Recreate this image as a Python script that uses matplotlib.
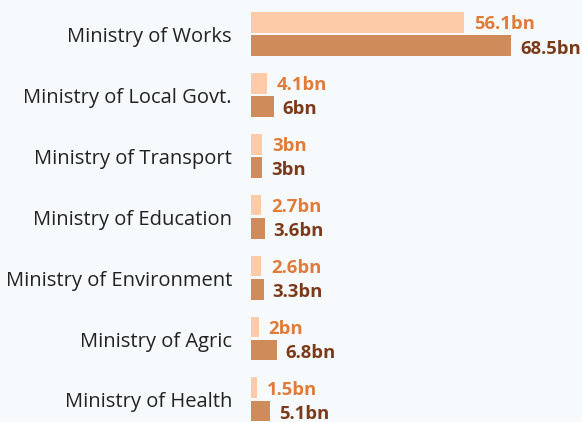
import matplotlib
matplotlib.use('Agg')
import matplotlib.pyplot as plt
import numpy as np

# data
ministries = ['Ministry of Works', 'Ministry of Local Govt.', 'Ministry of Transport',
              'Ministry of Education', 'Ministry of Environment', 'Ministry of Agric',
              'Ministry of Health']
series_a = [56.1, 4.1, 3, 2.7, 2.6, 2, 1.5]
series_b = [68.5, 6, 3, 3.6, 3.3, 6.8, 5.1]

bg = '#F7FAFC'
light_bar = '#FDCBA8'
dark_bar = '#D08B5B'
light_txt = '#E07B39'
dark_txt = '#7B3A1A'

plt.rcParams['font.family'] = ['Open Sans', 'DejaVu Sans']

W, H = 582, 422
fig = plt.figure(figsize=(W / 100, H / 100), dpi=100, facecolor=bg)
ax = fig.add_axes([251 / W, 0, 1 - 251 / W, 1])
ax.set_facecolor(bg)

y = np.arange(len(ministries))
h = 0.34
off = 0.19
ax.barh(y - off, series_a, height=h, color=light_bar)
ax.barh(y + off, series_b, height=h, color=dark_bar)

def fmt(v):
    return f'{v:g}bn'

for i in range(len(ministries)):
    ax.annotate(fmt(series_a[i]), (series_a[i], y[i] - off), xytext=(10, -2),
                textcoords='offset pixels', va='center', ha='left',
                fontsize=13.3, fontweight='bold', color=light_txt)
    ax.annotate(fmt(series_b[i]), (series_b[i], y[i] + off), xytext=(9, -3),
                textcoords='offset pixels', va='center', ha='left',
                fontsize=13.3, fontweight='bold', color=dark_txt)
    ax.annotate(ministries[i], (0, y[i]), xytext=(-19, -3),
                textcoords='offset pixels', va='center', ha='right',
                fontsize=14.5, color='#222222', annotation_clip=False)

ax.set_xlim(0, 331 / 3.8)
ax.set_ylim((422 - 34) / 60.9, -34 / 60.9)
ax.axis('off')

fig.savefig('out.png', dpi=100, facecolor=bg)
